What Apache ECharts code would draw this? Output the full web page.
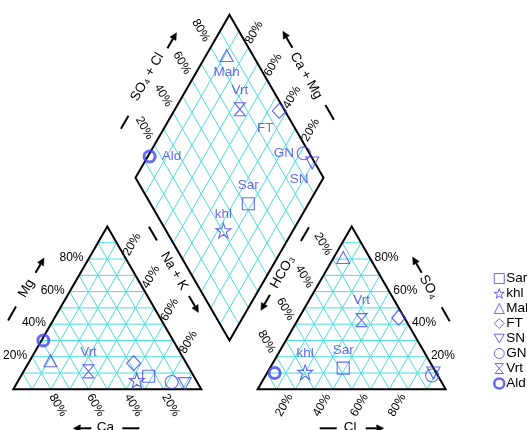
<!DOCTYPE html>
<html><head><meta charset="utf-8">
<script src="https://cdn.jsdelivr.net/npm/echarts@6/dist/echarts.min.js"></script>
<style>html,body{margin:0;padding:0;background:#fff}#c{width:527px;height:430px}</style>
</head><body><div id="c"></div>
<script>
// ---- data (percent of meq) ----
const samples = ['Sar','khl','Mah','FT','SN','GN','Vrt','Ald'];
const mgPct  = [8, 5.5, 17.5, 16, 3.5, 4.5, 11, 30];
const nakPct = [68, 63, 11, 56, 89.5, 82, 34.5, 1];
const so4Pct = [13, 10.5, 81, 44, 10, 8.5, 42.5, 10];
const clPct  = [39, 20, 5, 53, 88.5, 88.5, 34, 4];
const tickValues = [20, 40, 60, 80];
const gridValues = [10, 20, 30, 40, 50, 60, 70, 80, 90];

// ---- style / geometry ----
const BLUE = '#4343f0';
const GRID = '#4cdcdc';
const FONT = '"Liberation Sans", Arial, sans-serif';
const S3 = Math.sqrt(3) / 2;
const GAP = 30;
function catXY(mg, nak) { return [nak + mg / 2, mg * S3]; }
function anXY(so4, cl) { return [100 + GAP + cl + so4 / 2, so4 * S3]; }
function dmXY(camg, sc) { return [100 + GAP / 2 + (sc - camg) / 2, GAP * S3 + (camg + sc) * S3]; }

function gridSegs() {
  const g = [];
  gridValues.forEach(v => {
    g.push([catXY(v, 0), catXY(v, 100 - v)]);
    g.push([catXY(0, v), catXY(100 - v, v)]);
    g.push([catXY(0, 100 - v), catXY(100 - v, 0)]);
    g.push([anXY(v, 0), anXY(v, 100 - v)]);
    g.push([anXY(0, v), anXY(100 - v, v)]);
    g.push([anXY(0, 100 - v), anXY(100 - v, 0)]);
    g.push([dmXY(v, 0), dmXY(v, 100)]);
    g.push([dmXY(0, v), dmXY(100, v)]);
  });
  return g;
}
const outlines = [
  [catXY(0, 0), catXY(100, 0), catXY(0, 100)],
  [anXY(0, 0), anXY(100, 0), anXY(0, 100)],
  [dmXY(0, 0), dmXY(100, 0), dmXY(100, 100), dmXY(0, 100)]
];
// tick label axes: anchor(v), offset px, rotation deg, align
const tickAxes = [
  { at: v => catXY(v, 0), off: [-5, -1], rot: 0, align: 'right' },
  { at: v => catXY(0, 100 - v), off: [7, 16], rot: -60, align: 'center' },
  { at: v => catXY(100 - v, v), off: [6, -14.5], rot: 60, align: 'center' },
  { at: v => anXY(100 - v, 0), off: [-10, -15], rot: -60, align: 'center' },
  { at: v => anXY(v, 100 - v), off: [4, -1], rot: 0, align: 'left' },
  { at: v => anXY(0, v), off: [-11, 16], rot: 60, align: 'center' },
  { at: v => dmXY(100, v), off: [-10, -17], rot: -60, align: 'center' },
  { at: v => dmXY(v, 100), off: [6, -15], rot: 60, align: 'center' }
];
const titles = [
  { text: 'Mg', a: catXY(50, 0), u: [0.5, -S3], n: [-S3, -0.5], ta: 0, tp: 39, lp: 39, rot: 60, dash: [-37, -21], arrow: [18, 35] },
  { text: 'Na + K', a: catXY(50, 50), u: [0.5, S3], n: [S3, -0.5], ta: -22, tp: 35.5, lp: 36, rot: -60, dash: [-73, -57], arrow: [7, 26] },
  { text: 'Ca', a: catXY(0, 50), u: [1, 0], n: [0, 1], ta: -2, tp: 37.5, lp: 39, rot: 0, dash: [15, 32], arrow: [-16, -34] },
  { text: 'SO\u2084 + Cl', a: dmXY(100, 50), u: [0.5, -S3], n: [-S3, -0.5], ta: -1, tp: 40, lp: 37, rot: 60, dash: [-59, -44], arrow: [34, 52] },
  { text: 'Ca + Mg', a: dmXY(50, 100), u: [-0.5, -S3], n: [S3, -0.5], ta: 3, tp: 36, lp: 38, rot: -60, dash: [-49, -32], arrow: [34, 53] },
  { text: 'HCO\u2083', a: anXY(50, 0), u: [-0.5, S3], n: [-S3, -0.5], ta: -20, tp: 37, lp: 36.7, rot: 60, dash: [-72, -56], arrow: [6, 24] },
  { text: 'SO\u2084', a: anXY(50, 50), u: [-0.5, -S3], n: [S3, -0.5], ta: 3, tp: 36.5, lp: 37.5, rot: -60, dash: [-37, -21], arrow: [19, 37] },
  { text: 'Cl', a: anXY(0, 50), u: [1, 0], n: [0, 1], ta: -1.5, tp: 37.5, lp: 39, rot: 0, dash: [-32, -15], arrow: [14, 32] }
];
const labelCfg = {
  Vrt: { 0: [0, -19], 1: [0, -20], 2: [0, -19] },
  Sar: { 1: [0, -18], 2: [0, -18] },
  khl: { 1: [0, -19], 2: [0, -16] },
  Mah: { 2: [0, 17] },
  FT: { 2: [-14, 17] },
  GN: { 2: [-20, 0] },
  SN: { 2: [-13, 16] },
  Ald: { 2: [22, 0] }
};
const STAR = 'path://M50,0 L61.8,36 L99,36 L69,58 L80.5,95 L50,72 L19.5,95 L31,58 L1,36 L38.2,36 Z';
const HOUR = 'path://M0,0 L10,0 L0,12 L10,12 Z';
const DTRI = 'path://M0,0 L10,0 L5,8.66 Z';
const symbolOf = { Sar: 'rect', khl: STAR, Mah: 'triangle', FT: 'diamond', SN: DTRI, GN: 'circle', Vrt: HOUR, Ald: 'circle' };
const sizeOf = { Sar: 12, khl: 15, Mah: [13, 12], FT: [14, 15], SN: [13, 12], GN: 13, Vrt: [11, 13], Ald: 11 };

function arrowEls(a, b, col) {
  const dx = b[0] - a[0], dy = b[1] - a[1], len = Math.hypot(dx, dy), ux = dx / len, uy = dy / len;
  const hl = 7, hw = 3.5;
  const base = [b[0] - ux * hl, b[1] - uy * hl];
  return [
    { type: 'line', shape: { x1: a[0], y1: a[1], x2: base[0], y2: base[1] }, style: { stroke: col, lineWidth: 2 } },
    { type: 'polygon', shape: { points: [b, [base[0] - uy * hw, base[1] + ux * hw], [base[0] + uy * hw, base[1] - ux * hw]] }, style: { fill: col, stroke: col, lineWidth: 0.5 } }
  ];
}

function renderFrame(params, api) {
  const ch = [];
  const P = p => api.coord(p);
  gridSegs().forEach(s => {
    const a = P(s[0]), b = P(s[1]);
    ch.push({ type: 'line', shape: { x1: a[0], y1: a[1], x2: b[0], y2: b[1] }, style: { stroke: GRID, lineWidth: 1 } });
  });
  outlines.forEach(poly => {
    ch.push({ type: 'polygon', shape: { points: poly.map(P) }, style: { fill: 'none', stroke: '#000', lineWidth: 2 } });
  });
  tickAxes.forEach(ax => {
    tickValues.forEach(v => {
      const p = P(ax.at(v));
      ch.push({ type: 'text', x: p[0] + ax.off[0], y: p[1] + ax.off[1], rotation: ax.rot * Math.PI / 180,
        style: { text: v + '%', fill: '#000', fontSize: 12, fontFamily: FONT, align: ax.align, verticalAlign: 'middle' } });
    });
  });
  titles.forEach(t => {
    const a = P(t.a);
    const pt = (al, pp) => [a[0] + t.u[0] * al + t.n[0] * pp, a[1] + t.u[1] * al + t.n[1] * pp];
    const tc = pt(t.ta, t.tp);
    ch.push({ type: 'text', x: tc[0], y: tc[1], rotation: t.rot * Math.PI / 180,
      style: { text: t.text, fill: '#000', fontSize: 13.5, fontFamily: FONT, align: 'center', verticalAlign: 'middle' } });
    const d1 = pt(t.dash[0], t.lp), d2 = pt(t.dash[1], t.lp);
    ch.push({ type: 'line', shape: { x1: d1[0], y1: d1[1], x2: d2[0], y2: d2[1] }, style: { stroke: '#000', lineWidth: 2 } });
    arrowEls(pt(t.arrow[0], t.lp), pt(t.arrow[1], t.lp), '#000').forEach(e => ch.push(e));
  });
  return { type: 'group', children: ch };
}

const scatterSeries = samples.map((nm, i) => {
  const mg = mgPct[i], nak = nakPct[i], so4 = so4Pct[i], cl = clPct[i];
  const pts = [catXY(mg, nak), anXY(so4, cl), dmXY(100 - nak, so4 + cl)];
  return {
    type: 'scatter', name: nm, symbol: symbolOf[nm], symbolSize: sizeOf[nm], z: 5, clip: false,
    itemStyle: { color: 'rgba(0,0,0,0)', borderColor: BLUE, borderWidth: nm === 'Ald' ? 3 : 1.1 },
    emphasis: { disabled: true },
    data: pts.map((p, k) => {
      const off = labelCfg[nm] && labelCfg[nm][k];
      return { value: p, label: off ? { show: true, position: 'inside', offset: off, formatter: nm, color: BLUE, fontSize: 13.5, fontFamily: FONT } : { show: false } };
    })
  };
});

const chart = echarts.init(document.getElementById('c'), null, { renderer: 'canvas' });
chart.setOption({
  animation: false,
  backgroundColor: '#fff',
  grid: { left: 13.3, top: 13.3, width: 432.4, height: 376 },
  xAxis: { type: 'value', min: 0, max: 230, show: false },
  yAxis: { type: 'value', min: 0, max: 200, show: false },
  legend: {
    data: samples.map(nm => ({ name: nm, itemStyle: { borderWidth: nm === 'Ald' ? 2.5 : 1, borderColor: BLUE, color: 'rgba(0,0,0,0)' } })),
    orient: 'vertical', left: 493, top: 271, itemWidth: 10, itemHeight: 10, itemGap: 0,
    padding: 0, selectedMode: false,
    textStyle: { fontSize: 13.5, fontFamily: FONT, color: '#000', lineHeight: 15, padding: [0, 0, 0, -3] }
  },
  series: [{ type: 'custom', name: 'frame', data: [[0, 0]], clip: false, z: 1, silent: true, renderItem: renderFrame }].concat(scatterSeries)
});
</script></body></html>
